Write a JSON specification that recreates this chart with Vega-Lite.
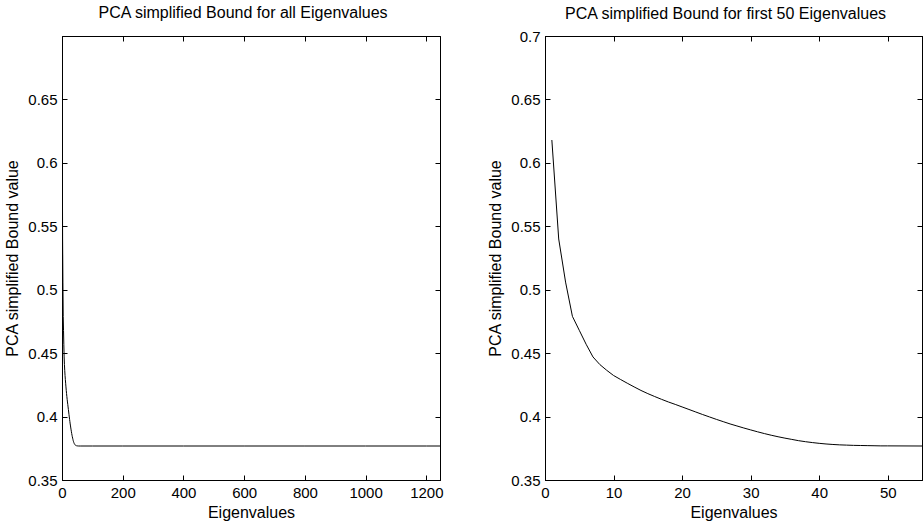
{
  "$schema": "https://vega.github.io/schema/vega-lite/v6.json",
  "padding": {"left": 4, "top": 4, "right": 0, "bottom": 0},
  "bounds": "flush",
  "spacing": 105,
  "datasets": {
    "bound": [
      {"x": 1, "y": 0.618}, {"x": 2, "y": 0.540}, {"x": 3, "y": 0.506}, {"x": 4, "y": 0.479},
      {"x": 5, "y": 0.468}, {"x": 6, "y": 0.457}, {"x": 7, "y": 0.447}, {"x": 8, "y": 0.441},
      {"x": 9, "y": 0.4365}, {"x": 10, "y": 0.4324}, {"x": 11, "y": 0.4293}, {"x": 12, "y": 0.4263},
      {"x": 13, "y": 0.4234}, {"x": 14, "y": 0.4206}, {"x": 15, "y": 0.4181}, {"x": 16, "y": 0.4158},
      {"x": 17, "y": 0.4136}, {"x": 18, "y": 0.4115}, {"x": 19, "y": 0.4096}, {"x": 20, "y": 0.4076},
      {"x": 21, "y": 0.4056}, {"x": 22, "y": 0.4036}, {"x": 23, "y": 0.4016}, {"x": 24, "y": 0.3997},
      {"x": 25, "y": 0.3978}, {"x": 26, "y": 0.3960}, {"x": 27, "y": 0.3942}, {"x": 28, "y": 0.3926},
      {"x": 29, "y": 0.3910}, {"x": 30, "y": 0.3895}, {"x": 31, "y": 0.3880}, {"x": 32, "y": 0.3866},
      {"x": 33, "y": 0.3853}, {"x": 34, "y": 0.3841}, {"x": 35, "y": 0.3830}, {"x": 36, "y": 0.3820},
      {"x": 37, "y": 0.3810}, {"x": 38, "y": 0.3802}, {"x": 39, "y": 0.3795}, {"x": 40, "y": 0.3789},
      {"x": 41, "y": 0.3784}, {"x": 42, "y": 0.3780}, {"x": 43, "y": 0.3777}, {"x": 44, "y": 0.3775},
      {"x": 45, "y": 0.3773}, {"x": 46, "y": 0.3772}, {"x": 47, "y": 0.3771}, {"x": 48, "y": 0.3770},
      {"x": 49, "y": 0.3769}, {"x": 50, "y": 0.3769}, {"x": 55, "y": 0.3768}, {"x": 60, "y": 0.3768},
      {"x": 100, "y": 0.3768}, {"x": 200, "y": 0.3768}, {"x": 400, "y": 0.3768}, {"x": 600, "y": 0.3768},
      {"x": 800, "y": 0.3768}, {"x": 1000, "y": 0.3768}, {"x": 1200, "y": 0.3768}, {"x": 1245, "y": 0.3768}
    ]
  },
  "hconcat": [
    {
      "width": 378,
      "height": 444,
      "title": {"text": "PCA simplified Bound for all Eigenvalues", "offset": 14.5},
      "data": {"name": "bound"},
      "layer": [
        {
          "mark": {"type": "line", "color": "black", "strokeWidth": 1, "clip": true},
          "encoding": {
            "x": {"field": "x", "type": "quantitative", "scale": {"domain": [0, 1245], "nice": false, "zero": false},
                  "axis": {"values": [0, 200, 400, 600, 800, 1000, 1200], "format": "d", "title": "Eigenvalues"}},
            "y": {"field": "y", "type": "quantitative", "scale": {"domain": [0.35, 0.7], "nice": false, "zero": false},
                  "axis": {"values": [0.35, 0.4, 0.45, 0.5, 0.55, 0.6, 0.65], "format": ".2~f", "title": "PCA simplified Bound value"}}
          }
        },
        {
          "mark": {"type": "line", "opacity": 0, "clip": true},
          "encoding": {
            "x": {"field": "x", "type": "quantitative", "scale": {"domain": [0, 1245], "nice": false, "zero": false},
                  "axis": {"orient": "top", "values": [0, 200, 400, 600, 800, 1000, 1200], "labels": false, "title": null}},
            "y": {"field": "y", "type": "quantitative", "scale": {"domain": [0.35, 0.7], "nice": false, "zero": false},
                  "axis": {"orient": "right", "values": [0.35, 0.4, 0.45, 0.5, 0.55, 0.6, 0.65], "labels": false, "title": null}}
          }
        }
      ],
      "resolve": {"axis": {"x": "independent", "y": "independent"}}
    },
    {
      "width": 377,
      "height": 444,
      "title": {"text": "PCA simplified Bound for first 50 Eigenvalues", "offset": 7},
      "data": {"name": "bound"},
      "layer": [
        {
          "mark": {"type": "line", "color": "black", "strokeWidth": 1, "clip": true},
          "encoding": {
            "x": {"field": "x", "type": "quantitative", "scale": {"domain": [0, 55], "nice": false, "zero": false},
                  "axis": {"values": [0, 10, 20, 30, 40, 50], "format": "d", "title": "Eigenvalues"}},
            "y": {"field": "y", "type": "quantitative", "scale": {"domain": [0.35, 0.7], "nice": false, "zero": false},
                  "axis": {"values": [0.35, 0.4, 0.45, 0.5, 0.55, 0.6, 0.65, 0.7], "format": ".2~f", "title": "PCA simplified Bound value"}}
          }
        },
        {
          "mark": {"type": "line", "opacity": 0, "clip": true},
          "encoding": {
            "x": {"field": "x", "type": "quantitative", "scale": {"domain": [0, 55], "nice": false, "zero": false},
                  "axis": {"orient": "top", "values": [0, 10, 20, 30, 40, 50], "labels": false, "title": null}},
            "y": {"field": "y", "type": "quantitative", "scale": {"domain": [0.35, 0.7], "nice": false, "zero": false},
                  "axis": {"orient": "right", "values": [0.35, 0.4, 0.45, 0.5, 0.55, 0.6, 0.65, 0.7], "labels": false, "title": null}}
          }
        }
      ],
      "resolve": {"axis": {"x": "independent", "y": "independent"}}
    }
  ],
  "config": {
    "view": {"stroke": "black", "strokeWidth": 1},
    "axis": {
      "grid": false,
      "domainColor": "black",
      "domainWidth": 1,
      "tickColor": "black",
      "tickWidth": 1,
      "tickSize": -5,
      "labelPadding": 10,
      "labelFlush": false,
      "labelOverlap": false,
      "labelColor": "black",
      "labelFont": "Liberation Sans",
      "labelFontSize": 15,
      "titleColor": "black",
      "titleFont": "Liberation Sans",
      "titleFontSize": 16,
      "titleFontWeight": "normal",
      "titlePadding": 7
    },
    "axisX": {"titlePadding": 4},
    "title": {
      "font": "Liberation Sans",
      "fontSize": 16,
      "fontWeight": "normal",
      "color": "black",
      "baseline": "alphabetic",
      "dx": -8
    }
  }
}
